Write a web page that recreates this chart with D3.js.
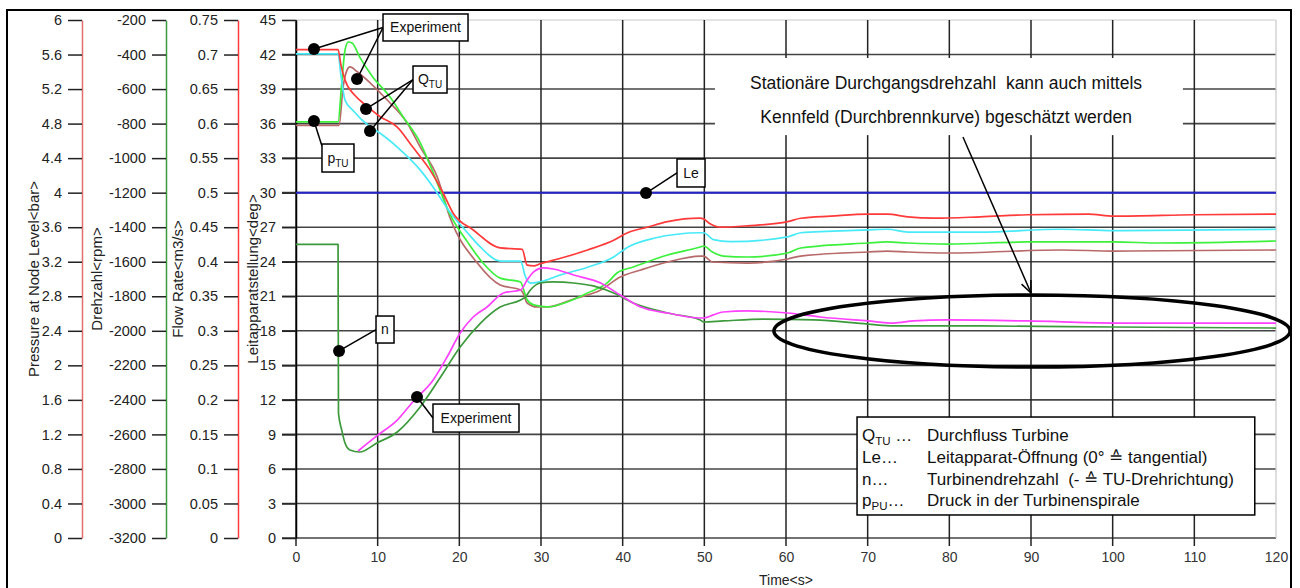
<!DOCTYPE html>
<html><head><meta charset="utf-8">
<script src="https://cdn.jsdelivr.net/npm/d3@7"></script>
<style>
body{margin:0;background:#fff}
svg{display:block;font-family:"Liberation Sans",Arial,sans-serif}
text{white-space:pre}
</style>
</head><body><svg id="c" width="1300" height="588"></svg>
<script>
// ---------- tick labels ----------
const pressureTicks = [0,0.4,0.8,1.2,1.6,2,2.4,2.8,3.2,3.6,4,4.4,4.8,5.2,5.6,6];
const speedTicks = [-3200,-3000,-2800,-2600,-2400,-2200,-2000,-1800,-1600,-1400,-1200,-1000,-800,-600,-400,-200];
const flowTicks = [0,0.05,0.1,0.15,0.2,0.25,0.3,0.35,0.4,0.45,0.5,0.55,0.6,0.65,0.7,0.75];
const degTicks = [0,3,6,9,12,15,18,21,24,27,30,33,36,39,42,45];
const timeTicks = [0,10,20,30,40,50,60,70,80,90,100,110,120];

// ---------- series [time s, value] ----------
const flowExp = [[0,0.707],[5.15,0.707],[5.5,0.685],[6.0,0.663],[7.2,0.641],[8.5,0.627],[10.3,0.610],[12.4,0.595],[14.3,0.566],[16.4,0.533],[18.0,0.500],[19.2,0.471],[21.7,0.446],[25.0,0.420],[27.7,0.418],[28.3,0.395],[29.1,0.394],[29.9,0.397],[32.4,0.405],[35.7,0.417],[38.9,0.431],[40.6,0.442],[43.0,0.450],[45.5,0.458],[49.5,0.463],[49.9,0.462],[50.7,0.455],[52.0,0.450],[55.3,0.452],[60.2,0.458],[61.8,0.463],[65.5,0.466],[70.0,0.469],[72.4,0.469],[74.9,0.465],[78.1,0.463],[83.8,0.465],[89.6,0.468],[97.0,0.469],[100.1,0.466],[110,0.468],[120,0.469]];
const flowSim = [[0,0.701],[5.15,0.701],[5.5,0.670],[6.0,0.634],[6.9,0.620],[9.1,0.595],[10.3,0.586],[12.4,0.566],[15.2,0.533],[16.8,0.508],[18.9,0.471],[21.0,0.442],[22.6,0.421],[25.0,0.401],[27.5,0.401],[28.1,0.378],[28.7,0.369],[29.9,0.371],[32.4,0.381],[35.7,0.392],[38.9,0.407],[40.6,0.421],[43.8,0.434],[49.5,0.442],[49.9,0.442],[51.1,0.432],[53.2,0.429],[60.2,0.436],[61.8,0.442],[70.0,0.446],[72.4,0.447],[74.9,0.443],[83.8,0.443],[93.7,0.447],[100.1,0.445],[120,0.447]];
const pressSim = [[0,4.82],[5.15,4.82],[5.6,5.27],[6.0,5.65],[6.4,5.745],[6.9,5.73],[7.8,5.57],[9.4,5.34],[11.5,5.11],[13.1,4.88],[15.2,4.58],[16.8,4.23],[18.9,3.74],[21.0,3.43],[22.9,3.185],[25.0,3.01],[27.5,2.965],[27.9,2.87],[28.3,2.76],[29.1,2.70],[30.8,2.676],[33.2,2.734],[35.7,2.838],[38.1,2.954],[39.3,3.069],[41.3,3.139],[45.5,3.278],[49.5,3.371],[49.9,3.382],[51.0,3.313],[52.3,3.266],[55.3,3.255],[60.2,3.301],[61.8,3.359],[70.0,3.417],[72.4,3.429],[74.9,3.417],[79.8,3.405],[89.6,3.429],[100.1,3.429],[105.9,3.417],[120,3.44]];
const pressExp = [[0,4.78],[5.27,4.78],[5.76,5.22],[6.25,5.42],[6.6,5.456],[7.5,5.40],[9.1,5.27],[11.2,5.07],[13.6,4.81],[15.2,4.53],[17.3,4.18],[18.9,3.70],[22.2,3.185],[25.0,2.93],[27.5,2.873],[27.8,2.838],[28.3,2.722],[29.5,2.676],[30.8,2.676],[34.0,2.768],[37.3,2.873],[39.7,3.023],[42.2,3.104],[45.5,3.197],[49.5,3.266],[49.9,3.266],[51.0,3.197],[55.3,3.185],[60.2,3.232],[61.8,3.266],[70.0,3.313],[72.4,3.324],[74.9,3.313],[79.8,3.301],[93.7,3.336],[100.1,3.324],[120,3.336]];
const speedSim = [[7.6,-2696],[10.05,-2603],[12.4,-2517],[14.3,-2412],[16.8,-2285],[18.5,-2152],[20.1,-2013],[21.7,-1920],[23.4,-1862],[25.4,-1781],[27.5,-1764],[28.3,-1706],[29.1,-1659],[30.3,-1636],[31.5,-1642],[34.0,-1677],[37.3,-1723],[39.7,-1793],[42.2,-1862],[45.5,-1897],[49.5,-1926],[49.9,-1926],[51.1,-1908],[52.3,-1891],[55.3,-1885],[60.2,-1897],[64.2,-1920],[70.0,-1943],[73.2,-1955],[75.6,-1943],[79.8,-1937],[89.6,-1943],[100.1,-1955],[120,-1955]];
const speedExp = [[0,-1500],[5.15,-1500],[5.2,-2476],[5.6,-2575],[6.0,-2650],[6.6,-2690],[7.8,-2702],[9.9,-2650],[12.4,-2586],[15.2,-2441],[17.7,-2268],[20.1,-2094],[22.6,-1955],[25.0,-1862],[27.5,-1822],[28.1,-1804],[28.7,-1764],[29.9,-1723],[31.5,-1717],[34.0,-1723],[36.4,-1740],[38.9,-1781],[41.3,-1839],[45.5,-1897],[49.5,-1937],[49.9,-1949],[52.3,-1943],[57.2,-1932],[63.4,-1937],[70.0,-1961],[73.2,-1972],[83.8,-1972],[100.1,-1978],[120,-1984]];
const guideVane = [[0,30],[120,30]];

// ---------- annotation content (positions in time / deg units) ----------
const callouts = [
  {label:"Experiment", t:15.86, d:44.35, w:85, h:27, anchor:"left", dots:[[2.2,42.48],[7.47,39.87]]},
  {label:"Q", sub:"TU", t:16.41, d:39.83, w:34, h:27, anchor:"left", dots:[[8.57,37.27],[9.06,35.36]]},
  {label:"p", sub:"TU", t:5.14, d:33.01, w:32, h:28, anchor:"topleft", dots:[[2.2,36.23]]},
  {label:"Le", t:48.37, d:31.71, w:28, h:28, anchor:"left", dots:[[42.86,29.97]]},
  {label:"n", t:10.9, d:18.11, w:18, h:27, anchor:"left", dots:[[5.27,16.25]]},
  {label:"Experiment", t:22.04, d:10.42, w:86, h:28, anchor:"left", dots:[[14.82,12.25]]}
];
const noteLines = ["Stationäre Durchgangsdrehzahl  kann auch mittels","Kennfeld (Durchbrennkurve) bgeschätzt werden"];
const legendKeys = [["Q","TU"," …"],["Le…","",""],["n…","",""],["p","PU","…"]];
const legendTexts = ["Durchfluss Turbine","Leitapparat-Öffnung (0° ≙ tangential)","Turbinendrehzahl  (- ≙ TU-Drehrichtung)","Druck in der Turbinenspirale"];

// ---------- scales ----------
const svg = d3.select("#c");
const x = d3.scaleLinear([0,120],[296,1276]);
const yDeg = d3.scaleLinear([0,45],[538,20]);
const yP = d3.scaleLinear([0,6],[538,20]);
const yN = d3.scaleLinear([-3200,-200],[538,20]);
const yQ = d3.scaleLinear([0,0.75],[538,20]);

svg.append("rect").attr("width",1300).attr("height",588).attr("fill","#fff");
svg.append("rect").attr("x",7).attr("y",10).attr("width",1284).attr("height",600)
  .attr("fill","none").attr("stroke","#000").attr("stroke-width",2);

// grid
const grid = svg.append("g");
grid.selectAll("line.h").data(degTicks).join("line")
  .attr("x1",282).attr("x2",x(120)).attr("y1",d=>yDeg(d)).attr("y2",d=>yDeg(d))
  .attr("stroke",d=>d===45?"#c8c8c8":"#444").attr("stroke-width",d=>d===45?1:1.6);
grid.selectAll("line.v").data(timeTicks).join("line")
  .attr("x1",d=>x(d)).attr("x2",d=>x(d)).attr("y1",yDeg(45)).attr("y2",d=>d===120?yDeg(0):yDeg(0)+8)
  .attr("stroke",d=>d===120?"#c8c8c8":"#222").attr("stroke-width",d=>d===120?1.2:1.5);

// axes
function leftAxis(scale, ticks, xpos, color, fmt){
  const g = svg.append("g").attr("transform",`translate(${xpos},0)`)
    .call(d3.axisLeft(scale).tickValues(ticks).tickSize(14).tickSizeOuter(0).tickPadding(6).tickFormat(fmt));
  g.select(".domain").attr("stroke",color).attr("stroke-width",1.5);
  g.selectAll(".tick line").attr("stroke","#222").attr("stroke-width",1.5);
  g.selectAll(".tick text").attr("fill","#222").style("font-size","14.5px").style("font-family","Liberation Sans, Arial, sans-serif");
  return g;
}
leftAxis(yP, pressureTicks, 82, "#e07070", d=>String(d));
leftAxis(yN, speedTicks, 166, "#3c9c3c", d=>String(d));
leftAxis(yQ, flowTicks, 238, "#ff3b3b", d=>String(d));
leftAxis(yDeg, degTicks, 296, "#000", d=>String(d));

const xa = svg.append("g").attr("transform",`translate(0,${yDeg(0)})`)
  .call(d3.axisBottom(x).tickValues(timeTicks).tickSize(0).tickPadding(14).tickSizeOuter(0));
xa.select(".domain").remove();
xa.selectAll(".tick text").attr("fill","#333").style("font-size","14px").style("font-family","Liberation Sans, Arial, sans-serif");

// axis titles
const titles = [["Pressure at Node Level<bar>",34],["Drehzahl<rpm>",97],["Flow Rate<m3/s>",178],["Leitapparatstellung<deg>",253]];
svg.selectAll("text.ttl").data(titles).join("text")
  .attr("transform",d=>`translate(${d[1]},279) rotate(-90)`)
  .attr("text-anchor","middle").attr("dy","0.35em")
  .style("font-size","15px").attr("fill","#222").text(d=>d[0]);
svg.append("text").attr("x",(x(0)+x(120))/2).attr("y",585).attr("text-anchor","middle")
  .style("font-size","14px").attr("fill","#222").text("Time<s>");

// series
const series = [
  {data:guideVane, y:yDeg, color:"#2424c8", w:2},
  {data:pressExp, y:yP, color:"#b86a6a", w:1.7},
  {data:pressSim, y:yP, color:"#3cf03c", w:1.7},
  {data:flowSim, y:yQ, color:"#48eaf8", w:1.7},
  {data:flowExp, y:yQ, color:"#ff3a3a", w:1.7},
  {data:speedExp, y:yN, color:"#3c9a3c", w:1.7},
  {data:speedSim, y:yN, color:"#ff40ff", w:1.7}
];
series.forEach(s=>{
  svg.append("path").datum(s.data)
    .attr("d", d3.line().curve(d3.curveMonotoneX).x(d=>x(d[0])).y(d=>s.y(d[1])))
    .attr("fill","none").attr("stroke",s.color).attr("stroke-width",s.w)
    .attr("stroke-linejoin","round");
});

// callouts
callouts.forEach(c=>{
  const cx = x(c.t), cy = yDeg(c.d);
  const bx = cx - c.w/2, by = cy - c.h/2;
  const ox = bx, oy = c.anchor==="topleft" ? by+2 : cy;
  c.dots.forEach(p=>{
    svg.append("line").attr("x1",ox).attr("y1",oy).attr("x2",x(p[0])).attr("y2",yDeg(p[1]))
      .attr("stroke","#000").attr("stroke-width",1.5);
  });
  c.dots.forEach(p=>{
    svg.append("circle").attr("cx",x(p[0])).attr("cy",yDeg(p[1])).attr("r",6).attr("fill","#000");
  });
  svg.append("rect").attr("x",bx).attr("y",by).attr("width",c.w).attr("height",c.h)
    .attr("fill","#fff").attr("stroke","#000").attr("stroke-width",1.5);
  const t = svg.append("text").attr("x",cx).attr("y",cy).attr("dy","0.35em").attr("text-anchor","middle")
    .style("font-size","14px").attr("fill","#111");
  t.append("tspan").text(c.label);
  if(c.sub) t.append("tspan").attr("dy",4).style("font-size","10px").text(c.sub);
});

// note box
const nb = {t0:51.3, t1:108.6, d0:41.7, d1:35.0};
svg.append("rect").attr("x",x(nb.t0)).attr("y",yDeg(nb.d0)).attr("width",x(nb.t1)-x(nb.t0)).attr("height",yDeg(nb.d1)-yDeg(nb.d0)).attr("fill","#fff");
svg.selectAll("text.note").data(noteLines).join("text")
  .attr("x",x(79.6)).attr("y",(d,i)=>yDeg([39.53,36.57][i])).attr("dy","0.35em").attr("text-anchor","middle")
  .style("font-size","17.5px").attr("fill","#111").text(d=>d);

// arrow
const a0=[x(81.67),yDeg(34.84)], a1=[x(90.0),yDeg(21.28)];
svg.append("line").attr("x1",a0[0]).attr("y1",a0[1]).attr("x2",a1[0]).attr("y2",a1[1]).attr("stroke","#000").attr("stroke-width",1.5);
const ang = Math.atan2(a1[1]-a0[1],a1[0]-a0[0]);
[0.4,-0.4].forEach(o=>{
  svg.append("line").attr("x1",a1[0]).attr("y1",a1[1])
    .attr("x2",a1[0]-13*Math.cos(ang+o)).attr("y2",a1[1]-13*Math.sin(ang+o))
    .attr("stroke","#000").attr("stroke-width",1.5);
});

// ellipse
svg.append("ellipse").attr("cx",x(90.12)).attr("cy",yDeg(17.98))
  .attr("rx",x(90.12+31.6)-x(90.12)).attr("ry",yDeg(17.98-3.13)-yDeg(17.98))
  .attr("fill","none").attr("stroke","#000").attr("stroke-width",3.5);

// legend box
const lb = {t0:68.7, t1:117.4, d0:10.51, d1:2.0};
svg.append("rect").attr("x",x(lb.t0)).attr("y",yDeg(lb.d0)).attr("width",x(lb.t1)-x(lb.t0)).attr("height",yDeg(lb.d1)-yDeg(lb.d0))
  .attr("fill","#fff").attr("stroke","#000").attr("stroke-width",1.5);
const rowY = [435,457,479,500];
legendKeys.forEach((k,i)=>{
  const t = svg.append("text").attr("x",x(lb.t0)+5).attr("y",rowY[i]).attr("dy","0.35em").style("font-size","17px").attr("fill","#111");
  t.append("tspan").text(k[0]);
  if(k[1]) t.append("tspan").attr("dy",4).style("font-size","11.5px").text(k[1]);
  if(k[2]) t.append("tspan").attr("dy",k[1]?-4:0).text(k[2]);
  svg.append("text").attr("x",x(lb.t0)+70).attr("y",rowY[i]).attr("dy","0.35em").style("font-size","17px").attr("fill","#111").text(legendTexts[i]);
});
</script></body></html>
